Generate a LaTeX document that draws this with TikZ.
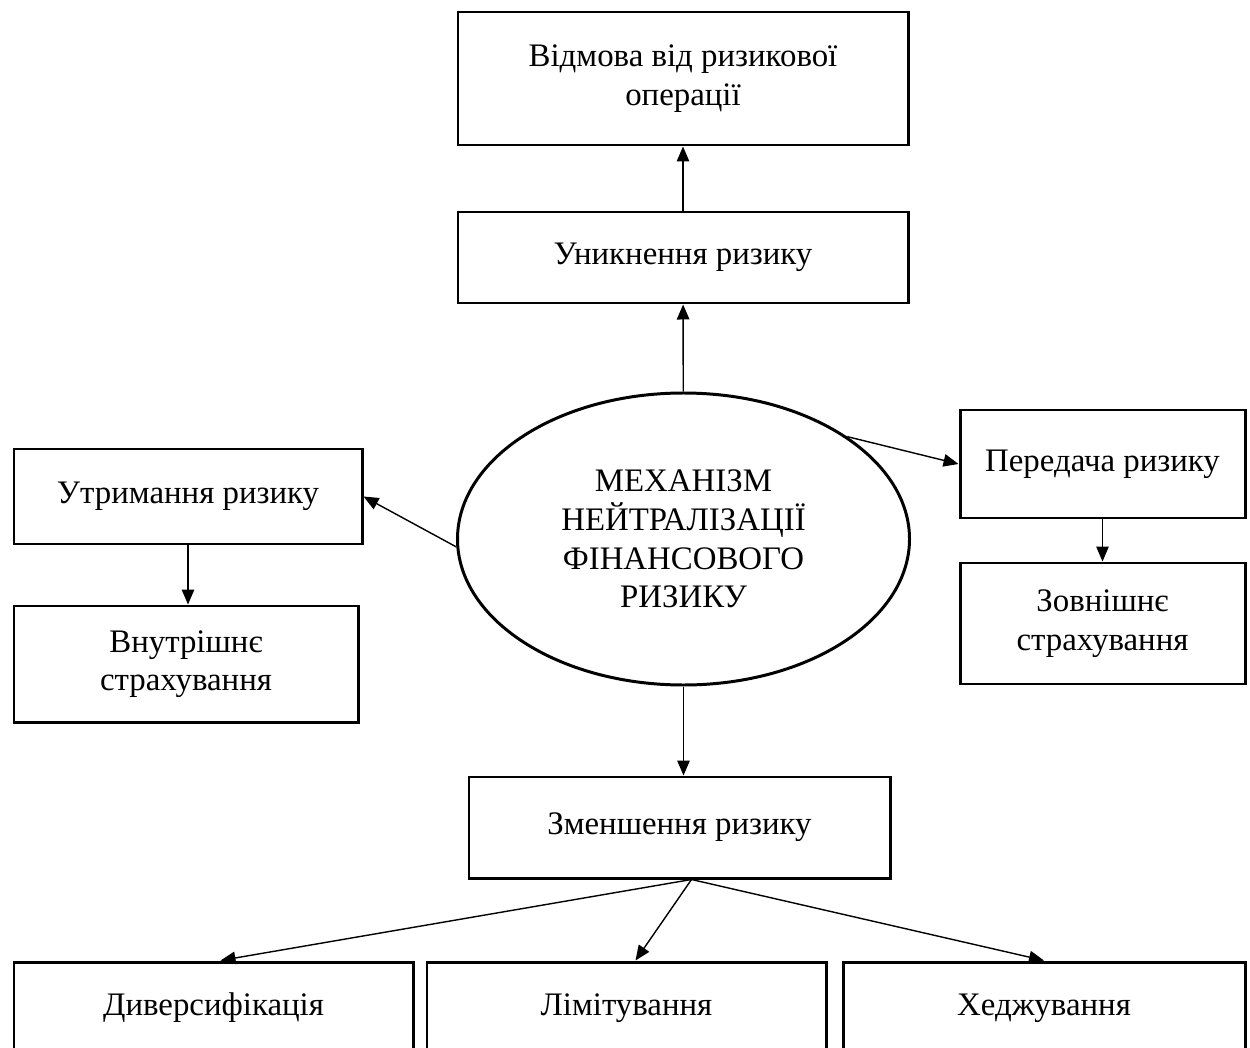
\documentclass[tikz,border=0pt]{standalone}
\usepackage{fontspec}
\setmainfont{Liberation Serif}
\usetikzlibrary{arrows.meta,shapes.geometric}
\tikzset{
  blok/.style  = {draw, line width=1.7pt, align=center, inner sep=0pt,
                  font=\fontsize{18.7}{22}\selectfont},
  centr/.style = {ellipse, draw, line width=1.7pt, align=center, inner sep=0pt,
                  minimum width=9.04cm, minimum height=5.84cm,
                  font=\fontsize{18.7}{22}\selectfont},
  link/.style  = {-{Triangle[length=3mm, width=2.5mm]}, line width=0.8pt},
}

\begin{document}
\begin{tikzpicture}[x=0.2mm, y=-0.2mm]
  \useasboundingbox (0,0) rectangle (1250,1048);

  % centre
  \node[centr] (mekh) at (683.5,539)
    {МЕХАНІЗМ\\НЕЙТРАЛІЗАЦІЇ\\ФІНАНСОВОГО\\РИЗИКУ};

  % top branch
  \node[blok, minimum width=9cm, minimum height=2.66cm] (vidmova) at (683,78.5)
    {Відмова від ризикової\\операції};
  \node[blok, minimum width=9cm, minimum height=1.82cm] (unyk) at (683,257.5)
    {Уникнення ризику};

  % left branch
  \node[blok, minimum width=6.96cm, minimum height=1.9cm] (utrym) at (188,496.5)
    {Утримання ризику};
  \node[blok, minimum width=6.88cm, minimum height=2.32cm] (vnutr) at (186,664)
    {Внутрішнє\\страхування};

  % right branch
  \node[blok, minimum width=5.7cm, minimum height=2.16cm] (peredacha) at (1102.5,464)
    {Передача ризику};
  \node[blok, minimum width=5.7cm, minimum height=2.42cm] (zovn) at (1102.5,623.5)
    {Зовнішнє\\страхування};

  % bottom branch
  \node[blok, minimum width=8.42cm, minimum height=2.02cm] (zmensh) at (679.5,827.5)
    {Зменшення ризику};
  \node[blok, minimum width=7.98cm, minimum height=1.84cm] (dyvers) at (213.5,1008)
    {Диверсифікація};
  \node[blok, minimum width=7.98cm, minimum height=1.84cm] (limit) at (626.5,1008)
    {Лімітування};
  \node[blok, minimum width=8.04cm, minimum height=1.84cm] (hedzh) at (1044,1008)
    {Хеджування};

  \draw[link] (unyk) -- (vidmova);
  \draw[link] (mekh) -- (unyk);
  \draw[link] (mekh.182) -- (utrym.east);
  \draw[link] (utrym.south) -- (utrym.south |- vnutr.north);
  \draw[link] (mekh.32) -- (peredacha.west);
  \draw[link] (peredacha) -- (zovn);
  \draw[link] (mekh.south) -- (mekh.south |- zmensh.north);

  \coordinate (rozg) at ([xshift=0.24cm]zmensh.south);
  \draw[link] (rozg) -- ([xshift=0.14cm]dyvers.north);
  \draw[link] (rozg) -- ([xshift=0.18cm]limit.north);
  \draw[link] (rozg) -- (hedzh.north);
\end{tikzpicture}
\end{document}
